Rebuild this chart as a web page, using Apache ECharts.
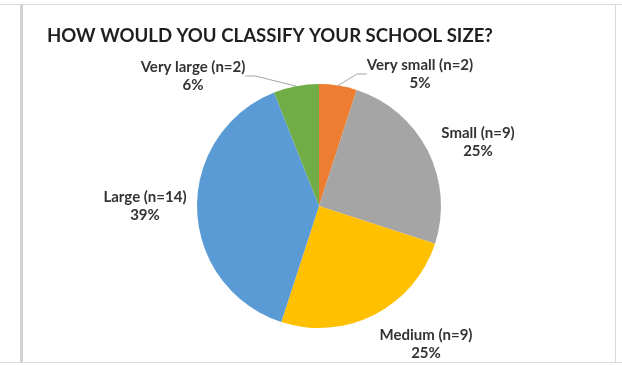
<!DOCTYPE html>
<html>
<head>
<meta charset="utf-8">
<script src="https://cdn.jsdelivr.net/npm/echarts@6/dist/echarts.min.js"></script>
<style>
  html, body { margin: 0; padding: 0; background: #ffffff; }
  #chart { width: 622px; height: 366px; }
</style>
</head>
<body>
<div id="chart"></div>
<script>
// Survey answers: school size
const categories = ['Very small', 'Small', 'Medium', 'Large', 'Very large'];
const counts = [2, 9, 9, 14, 2];
const percents = [5, 25, 25, 39, 6];
const colors = ['#ED7D31', '#A5A5A5', '#FFC000', '#5B9BD5', '#70AD47'];

// Where each two-line label sits (centre of the text block, px)
const labelSpots = [
  [420, 74],
  [478, 142],
  [426, 344],
  [145, 206],
  [193, 76]
];
// Only the thin slices get a leader line
const showLeader = [true, false, false, false, true];

const chart = echarts.init(document.getElementById('chart'));

const frameColor = '#D9D9D9';

chart.setOption({
  animation: false,
  backgroundColor: '#ffffff',
  title: {
    text: 'HOW WOULD YOU CLASSIFY YOUR SCHOOL SIZE?',
    left: 42,
    top: 21,
    textStyle: {
      fontFamily: 'Lato',
      fontWeight: 'bold',
      fontSize: 18.6,
      color: '#1f1f1f'
    }
  },
  graphic: [
    { type: 'line', shape: { x1: 0, y1: 4.5, x2: 622, y2: 4.5 }, style: { stroke: frameColor, lineWidth: 1 } },
    { type: 'line', shape: { x1: 0, y1: 362.5, x2: 622, y2: 362.5 }, style: { stroke: frameColor, lineWidth: 1 } },
    { type: 'line', shape: { x1: 21.5, y1: 4, x2: 21.5, y2: 363 }, style: { stroke: '#D4D4D4', lineWidth: 3 } },
    { type: 'line', shape: { x1: 615.5, y1: 4, x2: 615.5, y2: 363 }, style: { stroke: frameColor, lineWidth: 1 } }
  ],
  series: [{
    type: 'pie',
    center: [319, 206],
    radius: 122,
    startAngle: 90,
    clockwise: true,
    silent: true,
    itemStyle: { borderWidth: 0 },
    label: {
      show: true,
      position: 'outside',
      fontFamily: 'Lato',
      fontWeight: 'bold',
      fontSize: 15,
      lineHeight: 18,
      color: '#333333',
      align: 'center',
      formatter: p => `${p.name} (n=${counts[p.dataIndex]})\n${p.value}%`
    },
    labelLine: {
      show: true,
      length: 10,
      length2: 10,
      lineStyle: { color: '#A6A6A6', width: 1 }
    },
    labelLayout: params => {
      const [x, y] = labelSpots[params.dataIndex];
      return { x: x, y: y, align: 'center', verticalAlign: 'middle' };
    },
    data: categories.map((name, i) => ({
      name: name,
      value: percents[i],
      itemStyle: { color: colors[i] },
      labelLine: { show: showLeader[i] }
    }))
  }]
});
</script>
</body>
</html>
